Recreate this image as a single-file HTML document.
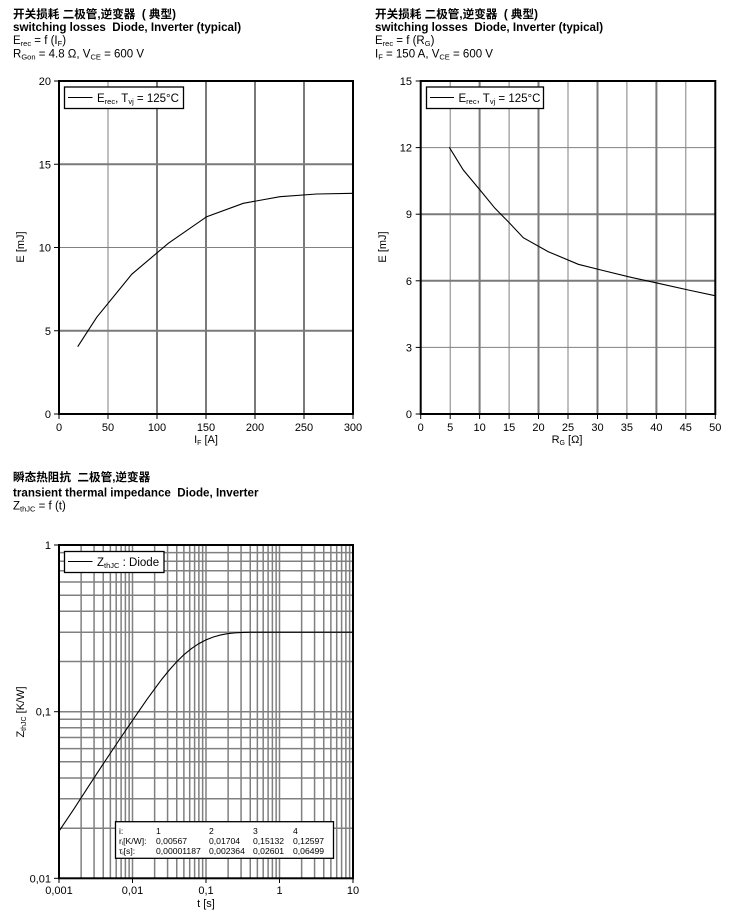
<!DOCTYPE html>
<html><head><meta charset="utf-8"><style>
html,body{margin:0;padding:0;background:#fff;}
svg{display:block;}
text{font-family:"Liberation Sans","Noto Sans CJK SC",sans-serif;fill:#000;white-space:pre;}
.h{font-size:11.6px;font-weight:bold;}
.hs{font-size:11.5px;}
.t{font-size:11px;}
.lt{font-size:11.5px;}
.g{stroke:#808080;stroke-width:1;fill:none;}
.G{stroke:#7a7a7a;stroke-width:2;fill:none;}
.lg{stroke:#808080;stroke-width:1.5;fill:none;}
.fr{stroke:#000;stroke-width:2;fill:none;}
.tk{stroke:#000;stroke-width:1;}
.cv{stroke:#000;stroke-width:1.1;fill:none;}
.tb{font-size:8.6px;}
</style></head><body>
<svg width="733" height="917" viewBox="0 0 733 917" xmlns="http://www.w3.org/2000/svg" xml:space="preserve">
<!-- Header top-left -->
<text class="h" x="13" y="18">开关损耗 二极管,逆变器  ( 典型)</text>
<text class="h" x="13" y="31">switching losses  Diode, Inverter (typical)</text>
<text class="hs" x="13" y="44">E<tspan font-size="7.5" dy="2">rec</tspan><tspan dy="-2"> = f (I</tspan><tspan font-size="7.5" dy="2">F</tspan><tspan dy="-2">)</tspan></text>
<text class="hs" x="13" y="57.5">R<tspan font-size="7.5" dy="2">Gon</tspan><tspan dy="-2"> = 4.8 Ω, V</tspan><tspan font-size="7.5" dy="2">CE</tspan><tspan dy="-2"> = 600 V</tspan></text>

<!-- Header top-right -->
<text class="h" x="375" y="18">开关损耗 二极管,逆变器  ( 典型)</text>
<text class="h" x="375" y="31">switching losses  Diode, Inverter (typical)</text>
<text class="hs" x="375" y="44">E<tspan font-size="7.5" dy="2">rec</tspan><tspan dy="-2"> = f (R</tspan><tspan font-size="7.5" dy="2">G</tspan><tspan dy="-2">)</tspan></text>
<text class="hs" x="375" y="57.5">I<tspan font-size="7.5" dy="2">F</tspan><tspan dy="-2"> = 150 A, V</tspan><tspan font-size="7.5" dy="2">CE</tspan><tspan dy="-2"> = 600 V</tspan></text>

<!-- Chart 1 -->
<g>
<line class="g" x1="108" y1="81" x2="108" y2="414"/>
<line class="G" x1="157" y1="81" x2="157" y2="414"/>
<line class="G" x1="206" y1="81" x2="206" y2="414"/>
<line class="G" x1="255" y1="81" x2="255" y2="414"/>
<line class="G" x1="304" y1="81" x2="304" y2="414"/>
<line class="G" x1="59" y1="330.75" x2="353" y2="330.75"/>
<line class="g" x1="59" y1="247.5" x2="353" y2="247.5"/>
<line class="G" x1="59" y1="164.25" x2="353" y2="164.25"/>
<rect class="fr" x="59" y="81" width="294" height="333"/>
<g class="tk">
<line x1="54" y1="81" x2="59" y2="81"/><line x1="54" y1="164.25" x2="59" y2="164.25"/><line x1="54" y1="247.5" x2="59" y2="247.5"/><line x1="54" y1="330.75" x2="59" y2="330.75"/><line x1="54" y1="414" x2="59" y2="414"/>
<line x1="59" y1="414" x2="59" y2="419"/><line x1="108" y1="414" x2="108" y2="419"/><line x1="157" y1="414" x2="157" y2="419"/><line x1="206" y1="414" x2="206" y2="419"/><line x1="255" y1="414" x2="255" y2="419"/><line x1="304" y1="414" x2="304" y2="419"/><line x1="353" y1="414" x2="353" y2="419"/>
</g>
<g class="t" text-anchor="end">
<text x="51" y="85">20</text><text x="51" y="168.25">15</text><text x="51" y="251.5">10</text><text x="51" y="334.75">5</text><text x="51" y="418">0</text>
</g>
<g class="t" text-anchor="middle">
<text x="59" y="431">0</text><text x="108" y="431">50</text><text x="157" y="431">100</text><text x="206" y="431">150</text><text x="255" y="431">200</text><text x="304" y="431">250</text><text x="353" y="431">300</text>
<text x="206" y="443">I<tspan font-size="7" dy="2">F</tspan><tspan dy="-2"> [A]</tspan></text>
</g>
<text class="t" text-anchor="middle" transform="translate(24,247) rotate(-90)">E [mJ]</text>
<polyline class="cv" points="77.7,346.7 96.7,317.3 131.7,274.3 168.3,243.3 206.7,216.7 243.3,203.3 280,196.7 316.7,194 353,193.3"/>
<rect x="64.5" y="87" width="119" height="21.5" fill="#fff" stroke="#000" stroke-width="1.3"/>
<line x1="68" y1="97.5" x2="92.5" y2="97.5" stroke="#000" stroke-width="1"/>
<text class="lt" x="97" y="102">E<tspan font-size="7.5" dy="2">rec</tspan><tspan dy="-2">, T</tspan><tspan font-size="7.5" dy="2">vj</tspan><tspan dy="-2"> = 125°C</tspan></text>
</g>

<!-- Chart 2 -->
<g>
<line class="g" x1="450.2" y1="81" x2="450.2" y2="414"/>
<line class="G" x1="479.6" y1="81" x2="479.6" y2="414"/>
<line class="g" x1="509.1" y1="81" x2="509.1" y2="414"/>
<line class="G" x1="538.5" y1="81" x2="538.5" y2="414"/>
<line class="g" x1="568" y1="81" x2="568" y2="414"/>
<line class="G" x1="597.5" y1="81" x2="597.5" y2="414"/>
<line class="g" x1="626.9" y1="81" x2="626.9" y2="414"/>
<line class="G" x1="656.4" y1="81" x2="656.4" y2="414"/>
<line class="g" x1="685.8" y1="81" x2="685.8" y2="414"/>
<line class="g" x1="420.7" y1="347.4" x2="715.3" y2="347.4"/>
<line class="G" x1="420.7" y1="280.8" x2="715.3" y2="280.8"/>
<line class="G" x1="420.7" y1="214.2" x2="715.3" y2="214.2"/>
<line class="g" x1="420.7" y1="147.6" x2="715.3" y2="147.6"/>
<rect class="fr" x="420.7" y="81" width="294.6" height="333"/>
<g class="tk">
<line x1="415.7" y1="81" x2="420.7" y2="81"/><line x1="415.7" y1="147.6" x2="420.7" y2="147.6"/><line x1="415.7" y1="214.2" x2="420.7" y2="214.2"/><line x1="415.7" y1="280.8" x2="420.7" y2="280.8"/><line x1="415.7" y1="347.4" x2="420.7" y2="347.4"/><line x1="415.7" y1="414" x2="420.7" y2="414"/>
<line x1="420.7" y1="414" x2="420.7" y2="419"/><line x1="450.2" y1="414" x2="450.2" y2="419"/><line x1="479.6" y1="414" x2="479.6" y2="419"/><line x1="509.1" y1="414" x2="509.1" y2="419"/><line x1="538.5" y1="414" x2="538.5" y2="419"/><line x1="568" y1="414" x2="568" y2="419"/><line x1="597.5" y1="414" x2="597.5" y2="419"/><line x1="626.9" y1="414" x2="626.9" y2="419"/><line x1="656.4" y1="414" x2="656.4" y2="419"/><line x1="685.8" y1="414" x2="685.8" y2="419"/><line x1="715.3" y1="414" x2="715.3" y2="419"/>
</g>
<g class="t" text-anchor="end">
<text x="412" y="85">15</text><text x="412" y="151.6">12</text><text x="412" y="218.2">9</text><text x="412" y="284.8">6</text><text x="412" y="351.4">3</text><text x="412" y="418">0</text>
</g>
<g class="t" text-anchor="middle">
<text x="420.7" y="431">0</text><text x="450.2" y="431">5</text><text x="479.6" y="431">10</text><text x="509.1" y="431">15</text><text x="538.5" y="431">20</text><text x="568" y="431">25</text><text x="597.5" y="431">30</text><text x="626.9" y="431">35</text><text x="656.4" y="431">40</text><text x="685.8" y="431">45</text><text x="715.3" y="431">50</text>
<text x="567" y="443">R<tspan font-size="7" dy="2">G</tspan><tspan dy="-2"> [Ω]</tspan></text>
</g>
<text class="t" text-anchor="middle" transform="translate(386,247) rotate(-90)">E [mJ]</text>
<polyline class="cv" points="449.3,147.3 463.3,170 480,190 495,208.3 509,222.5 523.3,237.7 548.3,251.7 578.3,264.3 603,270.5 628.3,276.7 658.3,283.3 688.3,290 715,295.7"/>
<rect x="426.5" y="87" width="117" height="21.5" fill="#fff" stroke="#000" stroke-width="1.3"/>
<line x1="430" y1="97.5" x2="454" y2="97.5" stroke="#000" stroke-width="1"/>
<text class="lt" x="458.5" y="102">E<tspan font-size="7.5" dy="2">rec</tspan><tspan dy="-2">, T</tspan><tspan font-size="7.5" dy="2">vj</tspan><tspan dy="-2"> = 125°C</tspan></text>
</g>

<!-- Header bottom -->
<text class="h" x="13" y="481">瞬态热阻抗  二极管,逆变器</text>
<text class="h" x="13" y="496.5">transient thermal impedance  Diode, Inverter</text>
<text class="hs" x="13" y="509.5">Z<tspan font-size="7.5" dy="2">thJC</tspan><tspan dy="-2"> = f (t)</tspan></text>

<!-- Chart 3 -->
<g>
<g class="lg">
<line x1="81.13" y1="545" x2="81.13" y2="878.3"/><line x1="94.07" y1="545" x2="94.07" y2="878.3"/><line x1="103.25" y1="545" x2="103.25" y2="878.3"/><line x1="110.37" y1="545" x2="110.37" y2="878.3"/><line x1="116.19" y1="545" x2="116.19" y2="878.3"/><line x1="121.11" y1="545" x2="121.11" y2="878.3"/><line x1="125.38" y1="545" x2="125.38" y2="878.3"/><line x1="129.14" y1="545" x2="129.14" y2="878.3"/>
<line x1="132.5" y1="545" x2="132.5" y2="878.3"/><line x1="154.63" y1="545" x2="154.63" y2="878.3"/><line x1="167.57" y1="545" x2="167.57" y2="878.3"/><line x1="176.75" y1="545" x2="176.75" y2="878.3"/><line x1="183.87" y1="545" x2="183.87" y2="878.3"/><line x1="189.69" y1="545" x2="189.69" y2="878.3"/><line x1="194.61" y1="545" x2="194.61" y2="878.3"/><line x1="198.88" y1="545" x2="198.88" y2="878.3"/><line x1="202.64" y1="545" x2="202.64" y2="878.3"/>
<line x1="206" y1="545" x2="206" y2="878.3"/><line x1="228.13" y1="545" x2="228.13" y2="878.3"/><line x1="241.07" y1="545" x2="241.07" y2="878.3"/><line x1="250.25" y1="545" x2="250.25" y2="878.3"/><line x1="257.37" y1="545" x2="257.37" y2="878.3"/><line x1="263.19" y1="545" x2="263.19" y2="878.3"/><line x1="268.11" y1="545" x2="268.11" y2="878.3"/><line x1="272.38" y1="545" x2="272.38" y2="878.3"/><line x1="276.14" y1="545" x2="276.14" y2="878.3"/>
<line x1="279.5" y1="545" x2="279.5" y2="878.3"/><line x1="301.63" y1="545" x2="301.63" y2="878.3"/><line x1="314.57" y1="545" x2="314.57" y2="878.3"/><line x1="323.75" y1="545" x2="323.75" y2="878.3"/><line x1="330.87" y1="545" x2="330.87" y2="878.3"/><line x1="336.69" y1="545" x2="336.69" y2="878.3"/><line x1="341.61" y1="545" x2="341.61" y2="878.3"/><line x1="345.88" y1="545" x2="345.88" y2="878.3"/><line x1="349.64" y1="545" x2="349.64" y2="878.3"/>
<line x1="59" y1="711.7" x2="353" y2="711.7"/><line x1="59" y1="661.5" x2="353" y2="661.5"/><line x1="59" y1="632.2" x2="353" y2="632.2"/><line x1="59" y1="611.3" x2="353" y2="611.3"/><line x1="59" y1="595.2" x2="353" y2="595.2"/><line x1="59" y1="582" x2="353" y2="582"/><line x1="59" y1="570.8" x2="353" y2="570.8"/><line x1="59" y1="561.2" x2="353" y2="561.2"/><line x1="59" y1="552.6" x2="353" y2="552.6"/>
<line x1="59" y1="828.2" x2="353" y2="828.2"/><line x1="59" y1="798.8" x2="353" y2="798.8"/><line x1="59" y1="778" x2="353" y2="778"/><line x1="59" y1="761.8" x2="353" y2="761.8"/><line x1="59" y1="748.6" x2="353" y2="748.6"/><line x1="59" y1="737.5" x2="353" y2="737.5"/><line x1="59" y1="727.8" x2="353" y2="727.8"/><line x1="59" y1="719.3" x2="353" y2="719.3"/>
</g>
<rect class="fr" x="59" y="545" width="294" height="333.3"/>
<g class="tk">
<line x1="54" y1="545" x2="59" y2="545"/><line x1="54" y1="711.7" x2="59" y2="711.7"/><line x1="54" y1="878.3" x2="59" y2="878.3"/>
<line x1="59" y1="878.3" x2="59" y2="883"/><line x1="132.5" y1="878.3" x2="132.5" y2="883"/><line x1="206" y1="878.3" x2="206" y2="883"/><line x1="279.5" y1="878.3" x2="279.5" y2="883"/><line x1="353" y1="878.3" x2="353" y2="883"/>
</g>
<g class="t" text-anchor="end">
<text x="51" y="549">1</text><text x="51" y="715.7">0,1</text><text x="51" y="882.3">0,01</text>
</g>
<g class="t" text-anchor="middle">
<text x="59" y="894">0,001</text><text x="132.5" y="894">0,01</text><text x="206" y="894">0,1</text><text x="279.5" y="894">1</text><text x="353" y="894">10</text>
<text x="206" y="907">t [s]</text>
</g>
<text class="t" text-anchor="middle" transform="translate(24,712) rotate(-90)">Z<tspan font-size="7" dy="2">thJC</tspan><tspan dy="-2"> [K/W]</tspan></text>
<polyline class="cv" points="59,831.2 73.7,809.3 88.4,786.6 103.1,764.1 117.8,742 132.5,720.4 147.2,699.1 161.9,679.1 169.25,670.1 176.6,661.9 183.95,654.7 191.3,648.7 198.65,643.7 206,639.9 213.35,637 220.7,634.95 228.05,633.6 235.4,632.8 242.75,632.4 250.1,632.2 264.8,632.2 353,632.2"/>
<rect x="64.5" y="551.5" width="99.5" height="21" fill="#fff" stroke="#000" stroke-width="1.3"/>
<line x1="68" y1="561.5" x2="92.5" y2="561.5" stroke="#000" stroke-width="1"/>
<text class="lt" x="97" y="566">Z<tspan font-size="7.5" dy="2">thJC</tspan><tspan dy="-2"> : Diode</tspan></text>
<rect x="115.5" y="821.7" width="218" height="36.6" fill="#fff" stroke="#000" stroke-width="1.3"/>
<g class="tb">
<text x="119" y="834">i:</text><text x="156" y="834">1</text><text x="209" y="834">2</text><text x="253" y="834">3</text><text x="293" y="834">4</text>
<text x="119" y="844">r<tspan font-size="5.5" dy="1">i</tspan><tspan dy="-1">[K/W]:</tspan></text><text x="156" y="844">0,00567</text><text x="209" y="844">0,01704</text><text x="253" y="844">0,15132</text><text x="293" y="844">0,12597</text>
<text x="119" y="854">τ<tspan font-size="5.5" dy="1">i</tspan><tspan dy="-1">[s]:</tspan></text><text x="156" y="854">0,00001187</text><text x="209" y="854">0,002364</text><text x="253" y="854">0,02601</text><text x="293" y="854">0,06499</text>
</g>
</g>
</svg>
</body></html>
